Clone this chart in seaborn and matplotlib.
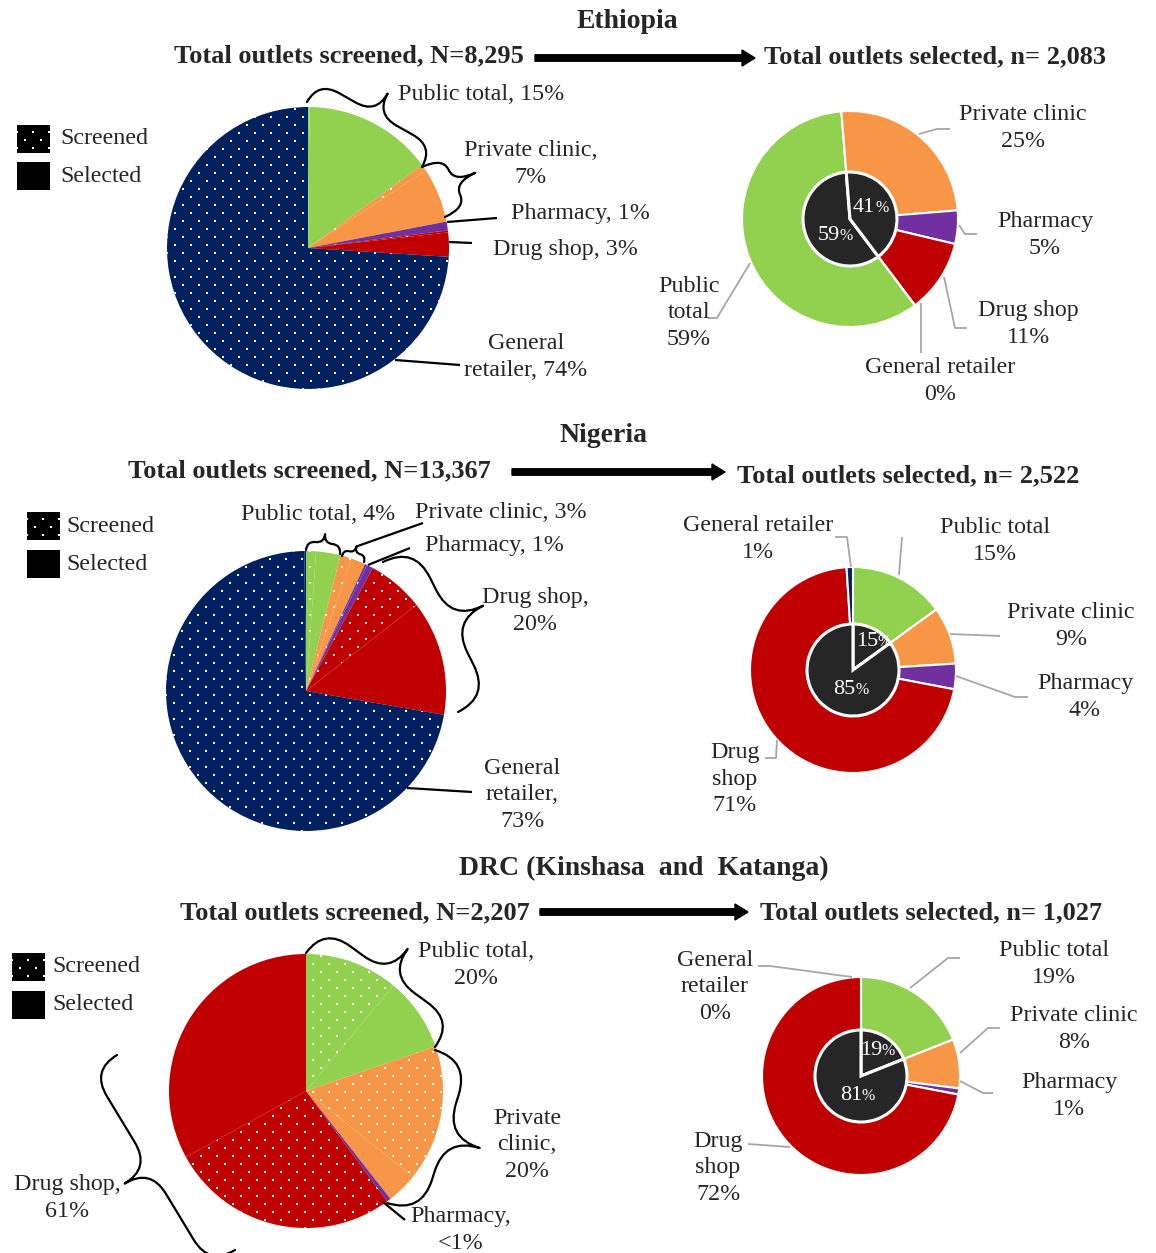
import numpy as np
import matplotlib
matplotlib.use("Agg")
import matplotlib.pyplot as plt
import seaborn as sns
from matplotlib.path import Path
from matplotlib.patches import PathPatch, Rectangle, FancyArrow

# ---------------- data ----------------
categories = ["Public total", "Private clinic", "Pharmacy", "Drug shop", "General retailer"]
countries = ["Ethiopia", "Nigeria", "DRC (Kinshasa  and  Katanga)"]
total_screened = [8295, 13367, 2207]
total_selected = [2083, 2522, 1027]

# share of screened outlets (%), by category
eth_screened = [15, 7, 1, 3, 74]
nga_screened = [4, 3, 1, 20, 73]
drc_screened = [20, 20, 0.5, 61, 0]

# share of selected outlets (%), by category
eth_selected = [59, 25, 5, 11, 0]
nga_selected = [15, 9, 4, 71, 1]
drc_selected = [19, 8, 1, 72, 0]

# inner pie: public vs private share of selected outlets (%)
inner_groups = ["Public", "Private"]
eth_inner = [59, 41]
nga_inner = [15, 85]
drc_inner = [19, 81]

legend_labels = ["Screened", "Selected"]

# ---------------- style ----------------
sns.set_theme(style="white")
plt.rcParams["font.family"] = ["Liberation Serif", "DejaVu Serif"]
palette = sns.color_palette(["#92D050", "#F79646", "#7030A0", "#C00000", "#002060"])
INNER = "#262626"
LEADER = "#A6A6A6"
FS = 17.3
LS = 1.32

W, H = 1156, 1253
fig = plt.figure(figsize=(W / 100, H / 100), dpi=100)
ax = fig.add_axes([0, 0, 1, 1])


def Y(y):
    return H - y


def pct_str(p):
    return "<1%" if 0 < p < 1 else f"{p:g}%"


def wrap(words, breaks):
    out = ""
    for i, w in enumerate(words):
        out += w
        if i < len(words) - 1:
            out += "\n" if i in breaks else " "
    return out


def add_dots(patch, cx, cy, r):
    xs, ys = [], []
    rows = np.arange(Y(cy) - r - 8, Y(cy) + r + 8, 8)
    for k, yy in enumerate(rows):
        off = 8 if k % 2 else 0
        xx = np.arange(cx - r - 16 + off, cx + r + 16, 16)
        xs.append(xx)
        ys.append(np.full_like(xx, yy, dtype=float))
    sc = ax.scatter(np.concatenate(xs), np.concatenate(ys), s=3.5, marker="s",
                    c="white", linewidths=0, zorder=3)
    sc.set_clip_path(patch)


def brace(p1, p2, depth, lw=1.6):
    p1 = np.array(p1, float)
    p2 = np.array(p2, float)
    d = p2 - p1
    L = np.hypot(*d)
    u = d / L
    n = np.array([d[1], -d[0]]) / L
    D = depth
    r = min(D / 2, L / 4)
    loc = [(0, 0), (0, D / 2), (r, D / 2), (L / 2 - r, D / 2), (L / 2, D / 2), (L / 2, D),
           (L / 2, D / 2), (L / 2 + r, D / 2), (L - r, D / 2), (L, D / 2), (L, 0)]
    codes = [Path.MOVETO, Path.CURVE3, Path.CURVE3, Path.LINETO, Path.CURVE3, Path.CURVE3,
             Path.CURVE3, Path.CURVE3, Path.LINETO, Path.CURVE3, Path.CURVE3]
    pts = []
    for s, t in loc:
        p = p1 + s * u + t * n
        pts.append((p[0], Y(p[1])))
    ax.add_patch(PathPatch(Path(pts, codes), fill=False, lw=lw, color="black",
                           zorder=5, capstyle="round", joinstyle="round"))
    tip = p1 + (L / 2) * u + D * n
    return tip


def line(pts, color="black", lw=1.6):
    pts = np.array(pts, float)
    ax.plot(pts[:, 0], H - pts[:, 1], color=color, lw=lw, zorder=5,
            solid_capstyle="butt")


# ---------------- layout (pixel positions) ----------------
layouts = [
    dict(  # Ethiopia
        screened=eth_screened, selected=eth_selected, inner=eth_inner,
        title=(627, 22), head_l=(349, 56), head_r=(935, 57), arrow=(535, 755, 58),
        legend=(17, 125, 162, 28, 33, 60),
        pie=(308, 248, 141),
        left_labels=[(481, 95, []), (531, 164, [1]), (580, 214, []), (565, 250, []), (526, 357, [0])],
        left_marks=[("brace", (307, 102), (422, 167), 47), ("brace", (422, 167), (445, 217), 46),
                    ("line", [(447, 222), (497, 218)]), ("line", [(449, 242), (472, 243)]),
                    ("line", [(395, 360), (460, 365)])],
        donut=(850, 219, 108, 47), start=-53,
        right_labels=[(689, 313, [0, 1]), (1023, 128, [1]), (1045, 235, [0]), (1028, 324, [1]),
                      (940, 381, [1])],
        right_leaders=[[(750, 263), (717, 318), (708, 318)], [(919, 134), (937, 129), (950, 129)],
                       [(959, 225), (965, 234), (977, 234)], [(944, 277), (955, 328), (967, 328)],
                       [(921, 303), (921, 353)]],
        inner_pos=[(835, 233), (870, 205)],
    ),
    dict(  # Nigeria
        screened=nga_screened, selected=nga_selected, inner=nga_inner,
        title=(603, 435), head_l=(309, 471), head_r=(908, 476), arrow=(512, 725, 472),
        legend=(27, 512, 550, 28, 33, 66),
        pie=(306, 691, 140),
        left_labels=[(318, 515, []), (501, 512, []), (494, 545, []), (535, 611, [1]), (522, 795, [0, 1])],
        left_marks=[("brace", (306, 550), (340, 554), 18), ("brace2", (342, 556), (364, 562), 13, (423, 523)),
                    ("line", [(368, 565), (410, 548)]), ("brace", (383, 562), (458, 712), 70),
                    ("line", [(407, 788), (472, 792)])],
        donut=(853, 670, 103, 46), start=90,
        right_labels=[(995, 541, [1]), (1071, 626, [1]), (1085, 697, [0]), (735, 779, [0, 1]),
                      (758, 539, [1])],
        right_leaders=[[(899, 575), (902, 537)], [(950, 634), (1000, 636)],
                       [(956, 676), (1015, 697), (1028, 697)], [(777, 740), (776, 758), (765, 758)],
                       [(851, 567), (847, 537), (835, 537)]],
        inner_pos=[(873, 639), (850, 687)],
    ),
    dict(  # DRC
        screened=drc_screened, selected=drc_selected, inner=drc_inner,
        title=(644, 868), head_l=(355, 913), head_r=(931, 913), arrow=(540, 748, 912),
        legend=(12, 953, 991, 28, 33, 52),
        pie=(306, 1091, 137),
        left_labels=[(476, 965, [1]), (527, 1145, [0, 1]), (461, 1230, [0]), (67, 1198, [1]), None],
        left_marks=[("brace", (306, 953), (435, 1047), 63), ("brace", (435, 1050), (387, 1203), 72),
                    ("line", [(383, 1202), (405, 1220)]), ("brace", (235, 1250), (117, 1055), 60),
                    None],
        donut=(861, 1076, 99, 46), start=90,
        right_labels=[(1054, 964, [1]), (1074, 1029, [1]), (1069, 1096, [0]), (718, 1168, [0, 1]),
                      (715, 987, [0, 1])],
        right_leaders=[[(910, 988), (948, 958), (960, 958)], [(960, 1053), (988, 1028), (1000, 1028)],
                       [(960, 1081), (983, 1093), (993, 1093)], [(790, 1147), (748, 1144)],
                       [(852, 977), (770, 966), (758, 966)]],
        inner_pos=[(877, 1048), (857, 1093)],
    ),
]

for ci, lay in enumerate(layouts):
    N, n = total_screened[ci], total_selected[ci]
    scr, sel, inner = lay["screened"], lay["selected"], lay["inner"]

    # ---- titles / header ----
    ax.text(lay["title"][0], Y(lay["title"][1]), countries[ci], ha="center", va="center",
            fontsize=20, fontweight="bold")
    ax.text(lay["head_l"][0], Y(lay["head_l"][1]), f"Total outlets screened, N={N:,}",
            ha="center", va="center", fontsize=19, fontweight="bold")
    ax.text(lay["head_r"][0], Y(lay["head_r"][1]), f"Total outlets selected, n= {n:,}",
            ha="center", va="center", fontsize=19, fontweight="bold")
    x0, x1, ya = lay["arrow"]
    ax.add_patch(FancyArrow(x0, Y(ya), x1 - x0, 0, width=6.5, head_width=16, head_length=13,
                            length_includes_head=True, color="black", zorder=5))

    # ---- legend ----
    lx, ly1, ly2, sh, sw, tx = lay["legend"]
    for k, (yy, lab) in enumerate(zip([ly1, ly2], legend_labels)):
        rect = Rectangle((lx, Y(yy + sh)), sw, sh, facecolor="black", edgecolor="none", zorder=2)
        ax.add_patch(rect)
        if k == 0:
            add_dots(rect, lx + sw / 2, yy + sh / 2, sw)
        ax.text(tx, Y(yy + sh / 2), lab, ha="left", va="center", fontsize=FS)

    # ---- left pie: screened, split into not-selected (dotted) and selected (solid) ----
    cx, cy, r = lay["pie"]
    vals, cols, dotted = [], [], []
    for i in range(len(categories)):
        sel_share = min(sel[i] * n / N, scr[i])
        vals += [scr[i] - sel_share, sel_share]
        cols += [palette[i], palette[i]]
        dotted += [True, False]
    wedges, _ = ax.pie(vals, colors=cols, startangle=90, counterclock=False,
                       center=(cx, Y(cy)), radius=r, normalize=True,
                       wedgeprops=dict(linewidth=0, antialiased=True))
    for w, dflag in zip(wedges, dotted):
        w.set_zorder(2)
        if dflag:
            add_dots(w, cx, cy, r)

    for i in range(len(categories)):
        lab = lay["left_labels"][i]
        if lab is None:
            continue
        words = categories[i].split()
        words[-1] += ","
        words.append(pct_str(scr[i]))
        ax.text(lab[0], Y(lab[1]), wrap(words, lab[2]), ha="center", va="center",
                fontsize=FS, linespacing=LS, zorder=6)
        mk = lay["left_marks"][i]
        if mk is None:
            continue
        if mk[0] == "brace":
            brace(mk[1], mk[2], mk[3])
        elif mk[0] == "brace2":
            tip = brace(mk[1], mk[2], mk[3])
            line([tip, mk[4]])
        else:
            line(mk[1])

    # ---- right donut: selected ----
    dx, dy, ro, rin = lay["donut"]
    ax.pie(sel, colors=palette, startangle=lay["start"], counterclock=False,
           center=(dx, Y(dy)), radius=ro,
           wedgeprops=dict(width=ro - rin, edgecolor="white", linewidth=1.5))
    ax.pie(inner, colors=[INNER, INNER], startangle=lay["start"], counterclock=False,
           center=(dx, Y(dy)), radius=rin,
           wedgeprops=dict(edgecolor="white", linewidth=2.2))
    for i in range(len(categories)):
        lx_, ly_, br = lay["right_labels"][i]
        words = categories[i].split() + [pct_str(sel[i])]
        ax.text(lx_, Y(ly_), wrap(words, br), ha="center", va="center", fontsize=FS,
                linespacing=LS, zorder=6)
        line(lay["right_leaders"][i], color=LEADER, lw=1.3)
    for (px, py), v in zip(lay["inner_pos"], inner):
        ax.text(px + 5, Y(py + 7), f"{v:g}", ha="right", va="baseline", fontsize=16,
                color="white", zorder=6)
        ax.text(px + 5, Y(py + 7), "%", ha="left", va="baseline", fontsize=11.5,
                color="white", zorder=6)

ax.set_xlim(0, W)
ax.set_ylim(0, H)
ax.set_aspect("auto")
ax.axis("off")
fig.savefig("out.png", dpi=100, facecolor="white")
